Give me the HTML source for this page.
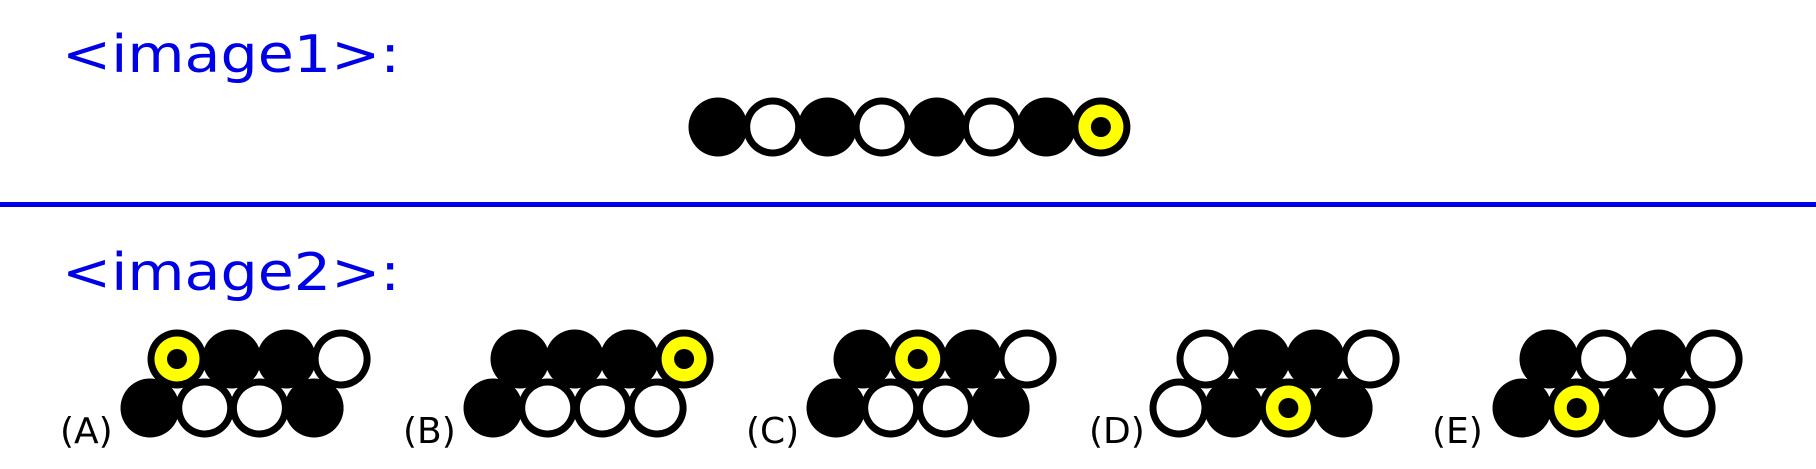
<!DOCTYPE html>
<html><head><meta charset="utf-8"><style>html,body{margin:0;padding:0;background:#fff;}svg{display:block}</style></head>
<body>
<svg id="s" width="1816" height="469" viewBox="0 0 1816 469">
<text x="62" y="72" font-family="DejaVu Sans, Liberation Sans, sans-serif" font-size="52" fill="#0000e6" textLength="338" lengthAdjust="spacingAndGlyphs">&lt;image1&gt;:</text>
<rect x="0" y="202" width="1816" height="5" fill="#0000e6"/>
<text x="62" y="290" font-family="DejaVu Sans, Liberation Sans, sans-serif" font-size="52" fill="#0000e6" textLength="338" lengthAdjust="spacingAndGlyphs">&lt;image2&gt;:</text>
<g id="marks"></g>
</svg>
<script>
const row1 = ['B','W','B','W','B','W','B','Y'];
const optionLabels = ['(A)','(B)','(C)','(D)','(E)'];
const optTop = [['Y','B','B','W'],['B','B','B','Y'],['B','Y','B','W'],['W','B','B','W'],['B','W','B','W']];
const optBottom = [['B','W','W','B'],['B','W','W','W'],['B','W','W','B'],['W','B','Y','B'],['B','Y','B','W']];
const NS='http://www.w3.org/2000/svg';
const g=document.getElementById('marks');
const R=29.5, SP=54.7;
function circ(p,cx,cy,r,fill){const c=document.createElementNS(NS,'circle');c.setAttribute('cx',cx);c.setAttribute('cy',cy);c.setAttribute('r',r);c.setAttribute('fill',fill);p.appendChild(c);}
function bead(type,cx,cy,name){
  const grp=document.createElementNS(NS,'g');
  
  
  circ(grp,cx,cy,R,'#000');
  if(type==='W') circ(grp,cx,cy,R-7,'#fff');
  if(type==='Y'){circ(grp,cx,cy,R-7,'#ffff00');circ(grp,cx,cy,10,'#000');}
  g.appendChild(grp);
}
row1.forEach((t,i)=>bead(t,718+i*SP,127,'sequence-bead-'+(i+1)));
optionLabels.forEach((lab,k)=>{
  const x0=150+k*343;
  optTop[k].forEach((t,i)=>bead(t,x0+27+i*SP,359,'option-'+k+'-top-bead-'+i));
  optBottom[k].forEach((t,i)=>bead(t,x0+i*SP,408,'option-'+k+'-bottom-bead-'+i));
  const tx=document.createElementNS(NS,'text');
  tx.setAttribute('x',x0-90);tx.setAttribute('y',443);
  tx.setAttribute('font-family','DejaVu Sans, Liberation Sans, sans-serif');
  tx.setAttribute('font-size','36');
  tx.setAttribute('fill','#000');
  
  
  tx.textContent=lab;g.appendChild(tx);
});
</script>
</body></html>
